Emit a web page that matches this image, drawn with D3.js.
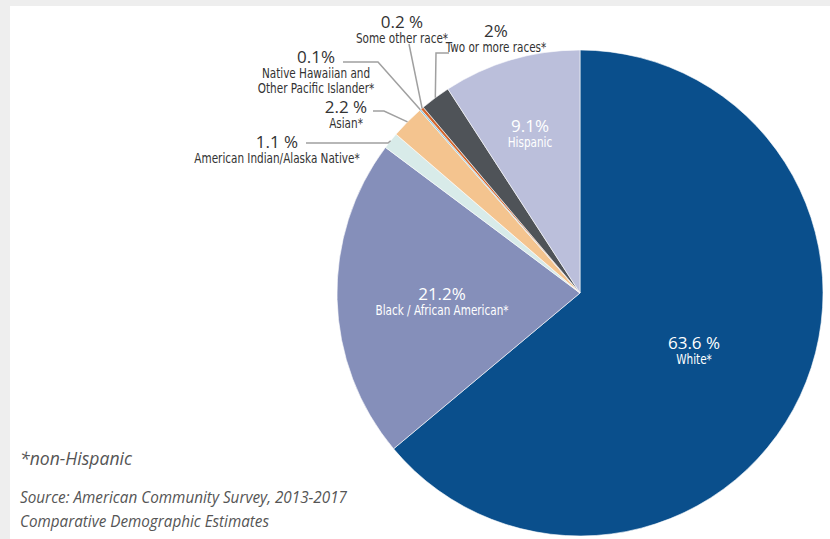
<!DOCTYPE html>
<meta charset="utf-8">
<head>
    <title>Race / ethnicity pie</title>
    <script src="https://d3js.org/d3.v7.min.js"></script>
    <style>
        body { margin: 0; background: #eeeeee; }
        svg { display: block; }
        .pct { font-family: "Open Sans", sans-serif; font-size: 17px; }
        .cat { font-family: "Liberation Sans Narrow", "DejaVu Sans Condensed", "Open Sans", sans-serif; font-size: 13.5px; }
        .note { font-family: "Open Sans", sans-serif; font-style: italic; fill: #555; }
    </style>
</head>
<body>
<svg id="chart" width="830" height="539"></svg>
<script>
// data, clockwise from 12 o'clock
var categories = ["White*", "Black / African American*", "American Indian/Alaska Native*", "Asian*",
                  "Native Hawaiian and|Other Pacific Islander*", "Some other race*", "Two or more races*", "Hispanic"]
var values = [63.6, 21.2, 1.1, 2.2, 0.1, 0.2, 2, 9.1]
var pctLabels = ["63.6 %", "21.2%", "1.1 %", "2.2 %", "0.1%", "0.2 %", "2%", "9.1%"]
var colors = ["#0a4f8c", "#858fba", "#d8ebe9", "#f4c48f", "#7cbfdc", "#d3672f", "#4f5358", "#bbbfdb"]

// where each label sits (x, y of percent baseline) and whether it's outside with a leader
var labelLayout = [
    {x: 694, y: 349, inside: true},
    {x: 442, y: 300, inside: true},
    {x: 277, y: 148, inside: false, elbow: [[306, 143], [388, 143]]},
    {x: 346, y: 113, inside: false, elbow: [[373, 111], [384, 111]]},
    {x: 316, y: 63,  inside: false, elbow: [[343, 62], [378, 62]]},
    {x: 402, y: 28,  inside: false, elbow: [[409, 44]]},
    {x: 496, y: 37,  inside: false, elbow: [[449, 53], [436, 53]]},
    {x: 530, y: 132, inside: true}
]

var svg = d3.select("#chart")
var width = 830, height = 539
var cx = 580, cy = 293, R = 243

svg.append("rect")
    .attr("x", 10).attr("y", 6)
    .attr("width", width - 10).attr("height", height - 6)
    .attr("fill", "#ffffff")

var data = categories.map(function(c, i) {
    return {name: c, value: values[i], pct: pctLabels[i], color: colors[i], lay: labelLayout[i]}
})

var pie = d3.pie().sort(null).value(function(d) { return d.value })
var arcs = pie(data)
var arc = d3.arc().innerRadius(0).outerRadius(R)
var edge = d3.arc().innerRadius(R).outerRadius(R)

var g = svg.append("g").attr("transform", "translate(" + cx + "," + cy + ")")

g.selectAll("path.slice")
    .data(arcs)
    .enter()
    .append("path")
    .attr("class", "slice")
    .attr("d", arc)
    .attr("fill", function(d) { return d.data.color })
    .attr("stroke", "#ffffff")
    .attr("stroke-width", 0.6)

// leader lines
var lead = d3.line()
arcs.forEach(function(a) {
    var L = a.data.lay
    if (L.inside) return
    var p = edge.centroid(a)
    var pts = L.elbow.slice()
    pts.push([p[0] + cx, p[1] + cy])
    svg.append("path")
        .attr("d", lead(pts))
        .attr("fill", "none")
        .attr("stroke", "#a0a0a0")
        .attr("stroke-width", 1.5)
})

// labels
arcs.forEach(function(a) {
    var L = a.data.lay
    var col = L.inside ? "#ffffff" : "#333333"
    svg.append("text")
        .attr("class", "pct")
        .attr("x", L.x).attr("y", L.y)
        .attr("text-anchor", "middle")
        .attr("fill", col)
        .text(a.data.pct)
    var lines = a.data.name.split("|")
    lines.forEach(function(t, j) {
        var tx = svg.append("text")
            .attr("class", "cat")
            .attr("x", L.x).attr("y", L.y + 15 + j * 15)
            .attr("text-anchor", "middle")
            .attr("fill", col)
            .text(t)
        // condensed look: squeeze to ~86% width
        var w = tx.node().getComputedTextLength()
        tx.attr("textLength", w * 0.86).attr("lengthAdjust", "spacingAndGlyphs")
    })
})

// notes
svg.append("text").attr("class", "note")
    .attr("x", 20).attr("y", 465)
    .style("font-size", "19px")
    .attr("textLength", 112).attr("lengthAdjust", "spacingAndGlyphs")
    .text("*non-Hispanic")
svg.append("text").attr("class", "note")
    .attr("x", 20).attr("y", 503)
    .style("font-size", "17px")
    .attr("textLength", 327).attr("lengthAdjust", "spacingAndGlyphs")
    .text("Source: American Community Survey, 2013-2017")
svg.append("text").attr("class", "note")
    .attr("x", 20).attr("y", 527)
    .style("font-size", "17px")
    .attr("textLength", 249).attr("lengthAdjust", "spacingAndGlyphs")
    .text("Comparative Demographic Estimates")
</script>
</body>
